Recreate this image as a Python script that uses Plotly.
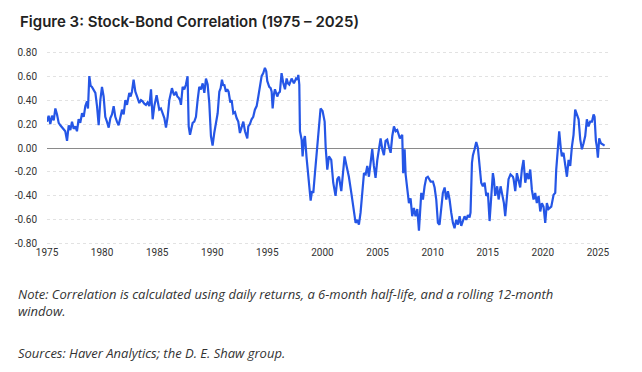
import plotly.graph_objects as go

# ---- data: decimal year, correlation ----
years_a = [1975.00, 1975.15, 1975.30, 1975.45, 1975.61, 1975.76, 1975.91, 1976.06, 1976.21, 1976.36,
           1976.51, 1976.66, 1976.82, 1976.97, 1977.12, 1977.27, 1977.42, 1977.57, 1977.72, 1977.87,
           1978.02, 1978.18, 1978.33, 1978.48, 1978.63, 1978.72, 1978.84, 1978.96, 1979.08, 1979.23,
           1979.39, 1979.54, 1979.69, 1979.84, 1979.99, 1980.14, 1980.29, 1980.44, 1980.60, 1980.75,
           1980.90, 1981.05, 1981.20, 1981.35, 1981.50, 1981.65, 1981.81, 1981.96, 1982.11, 1982.26,
           1982.47, 1982.59, 1982.71, 1982.86, 1983.02, 1983.14]
corr_a = [0.22, 0.27, 0.20, 0.27, 0.23, 0.33, 0.28, 0.21, 0.19, 0.17,
          0.15, 0.14, 0.06, 0.19, 0.15, 0.22, 0.16, 0.18, 0.14, 0.24,
          0.21, 0.29, 0.26, 0.35, 0.39, 0.33, 0.60, 0.52, 0.51, 0.49,
          0.46, 0.35, 0.19, 0.40, 0.51, 0.43, 0.26, 0.22, 0.17, 0.25,
          0.28, 0.35, 0.26, 0.22, 0.19, 0.25, 0.32, 0.28, 0.40, 0.36,
          0.46, 0.43, 0.47, 0.57, 0.47, 0.44]

years_b = [1983.38, 1983.53, 1983.68, 1983.83, 1983.98, 1984.13, 1984.29, 1984.44, 1984.59, 1984.74,
           1984.95, 1985.07, 1985.19, 1985.34, 1985.50, 1985.65, 1985.80, 1985.95, 1986.10, 1986.22,
           1986.34, 1986.46, 1986.55, 1986.71, 1986.83, 1986.95, 1987.07, 1987.16, 1987.31, 1987.46,
           1987.61, 1987.76, 1987.86, 1987.98, 1988.10, 1988.22, 1988.37, 1988.52, 1988.67, 1988.82,
           1988.97, 1989.13, 1989.28, 1989.43, 1989.58, 1989.73, 1989.88, 1990.03, 1990.18, 1990.34,
           1990.49, 1990.64, 1990.76, 1990.88, 1991.00, 1991.09, 1991.24, 1991.36, 1991.48, 1991.64]
corr_b = [0.375, 0.40, 0.39, 0.37, 0.36, 0.38, 0.35, 0.49, 0.24, 0.35,
          0.44, 0.38, 0.32, 0.33, 0.28, 0.25, 0.17, 0.26, 0.40, 0.45,
          0.50, 0.46, 0.44, 0.47, 0.43, 0.42, 0.40, 0.36, 0.51, 0.49,
          0.53, 0.60, 0.18, 0.11, 0.17, 0.21, 0.22, 0.26, 0.40, 0.51,
          0.49, 0.54, 0.46, 0.58, 0.53, 0.375, 0.10, 0.02, 0.125, 0.21,
          0.29, 0.47, 0.50, 0.57, 0.52, 0.53, 0.47, 0.49, 0.47, 0.38]

years_c = [1991.76, 1991.91, 1992.06, 1992.21, 1992.36, 1992.51, 1992.66, 1992.82, 1992.97, 1993.18,
           1993.27, 1993.42, 1993.57, 1993.72, 1993.87, 1994.03, 1994.18, 1994.33, 1994.48, 1994.63,
           1994.78, 1994.90, 1994.99, 1995.17, 1995.30, 1995.39, 1995.48, 1995.60, 1995.69, 1995.90,
           1996.02, 1996.14, 1996.29, 1996.45, 1996.60, 1996.75, 1996.87, 1996.99, 1997.20, 1997.41,
           1997.60, 1997.72, 1997.81, 1997.90, 1997.96, 1998.11, 1998.20, 1998.32, 1998.41, 1998.56,
           1998.71, 1998.87, 1998.93, 1999.05, 1999.17, 1999.32, 1999.53, 1999.71, 1999.83, 2000.01]
corr_c = [0.40, 0.29, 0.30, 0.25, 0.22, 0.125, 0.18, 0.22, 0.14, 0.08,
          0.18, 0.20, 0.24, 0.26, 0.32, 0.35, 0.43, 0.52, 0.60, 0.625,
          0.67, 0.64, 0.56, 0.51, 0.50, 0.47, 0.33, 0.45, 0.49, 0.43,
          0.46, 0.47, 0.625, 0.54, 0.49, 0.58, 0.54, 0.53, 0.58, 0.54,
          0.58, 0.57, 0.61, 0.53, 0.14, 0.07, -0.07, 0.07, 0.10, -0.08,
          -0.21, -0.35, -0.44, -0.36, -0.375, -0.21, 0.01, 0.25, 0.33, 0.31]

years_d = [2000.20, 2000.29, 2000.44, 2000.59, 2000.80, 2000.98, 2001.19, 2001.35, 2001.50, 2001.71,
           2001.89, 2002.01, 2002.19, 2002.40, 2002.62, 2002.80, 2003.01, 2003.16, 2003.31, 2003.46,
           2003.61, 2003.77, 2003.92, 2004.07, 2004.22, 2004.37, 2004.52, 2004.67, 2004.82, 2004.98,
           2005.13, 2005.28, 2005.43, 2005.58, 2005.73, 2005.88, 2006.03, 2006.19, 2006.34, 2006.49,
           2006.64, 2006.79, 2007.03, 2007.24, 2007.33, 2007.46, 2007.55, 2007.70, 2007.85, 2008.00,
           2008.15, 2008.30, 2008.45, 2008.61, 2008.76]
corr_d = [0.22, 0.01, -0.18, -0.07, -0.10, -0.29, -0.40, -0.26, -0.24, -0.36,
          -0.18, -0.07, -0.15, -0.24, -0.375, -0.49, -0.625, -0.60, -0.64, -0.54,
          -0.35, -0.21, -0.22, -0.15, -0.24, -0.11, -0.01, -0.15, -0.25, -0.10,
          0.01, 0.08, -0.01, -0.06, 0.06, 0.07, 0.01, -0.04, 0.10, 0.18,
          0.14, 0.15, 0.08, 0.11, -0.21, -0.01, -0.22, -0.35, -0.46, -0.42,
          -0.57, -0.50, -0.57, -0.51, -0.69]

years_e = [2008.97, 2009.12, 2009.27, 2009.42, 2009.57, 2009.82, 2010.03, 2010.18, 2010.33, 2010.48,
           2010.63, 2010.78, 2010.93, 2011.09, 2011.24, 2011.39, 2011.54, 2011.69, 2011.84, 2011.99,
           2012.14, 2012.30, 2012.45, 2012.60, 2012.75, 2012.90, 2013.05, 2013.20, 2013.35, 2013.44,
           2013.57, 2013.66, 2013.81, 2013.96, 2014.11, 2014.26, 2014.41, 2014.56, 2014.72, 2014.87,
           2015.02, 2015.17, 2015.32, 2015.47, 2015.56, 2015.68, 2015.86, 2015.99, 2016.17, 2016.29,
           2016.47, 2016.59, 2016.77, 2016.89, 2017.07]
corr_e = [-0.375, -0.43, -0.32, -0.25, -0.24, -0.28, -0.28, -0.33, -0.43, -0.625,
          -0.64, -0.51, -0.375, -0.33, -0.43, -0.36, -0.43, -0.54, -0.625, -0.67,
          -0.60, -0.64, -0.57, -0.65, -0.60, -0.57, -0.60, -0.56, -0.58, -0.54,
          -0.125, -0.06, -0.01, 0.05, 0.00, -0.15, -0.29, -0.32, -0.29, -0.40,
          -0.375, -0.61, -0.375, -0.21, -0.26, -0.40, -0.32, -0.43, -0.32, -0.375,
          -0.46, -0.57, -0.40, -0.26, -0.22]

years_f = [2017.29, 2017.35, 2017.50, 2017.65, 2017.80, 2017.95, 2018.10, 2018.25, 2018.41, 2018.56,
           2018.71, 2018.86, 2019.01, 2019.16, 2019.31, 2019.46, 2019.62, 2019.77, 2019.92, 2020.07,
           2020.22, 2020.37, 2020.52, 2020.77, 2020.98, 2021.13, 2021.22, 2021.34, 2021.49, 2021.64,
           2021.73, 2021.88, 2022.04, 2022.19, 2022.34, 2022.49, 2022.64, 2022.79, 2022.94, 2023.09,
           2023.25, 2023.40, 2023.55, 2023.70, 2023.85, 2024.00, 2024.15, 2024.30, 2024.46, 2024.61,
           2024.70, 2024.82, 2024.91, 2025.00, 2025.12, 2025.27, 2025.43, 2025.61]
corr_f = [-0.24, -0.26, -0.36, -0.21, -0.28, -0.33, -0.18, -0.10, -0.29, -0.21,
          -0.26, -0.18, -0.35, -0.43, -0.375, -0.46, -0.40, -0.53, -0.46, -0.49,
          -0.625, -0.46, -0.51, -0.49, -0.39, -0.375, -0.18, -0.03, 0.14, -0.01,
          -0.07, -0.04, -0.15, -0.24, -0.10, -0.15, 0.01, 0.11, 0.32, 0.28,
          0.24, 0.07, -0.01, 0.04, 0.10, 0.24, 0.18, 0.22, 0.22, 0.28,
          0.26, 0.06, 0.01, -0.08, 0.08, 0.04, 0.03, 0.02]

y_ticks = [0.8, 0.6, 0.4, 0.2, 0.0, -0.2, -0.4, -0.6, -0.8]
x_ticks = [1975, 1980, 1985, 1990, 1995, 2000, 2005, 2010, 2015, 2020, 2025]

title_text = "Figure 3: Stock-Bond Correlation (1975 – 2025)"
note_text = ("Note: Correlation is calculated using daily returns, a 6-month half-life, and a rolling 12-month"
             "<br>window.")
source_text = "Sources: Haver Analytics; the D. E. Shaw group."

years = years_a + years_b + years_c + years_d + years_e + years_f
corr = corr_a + corr_b + corr_c + corr_d + corr_e + corr_f

fig = go.Figure()
fig.add_trace(go.Scatter(x=years, y=corr, mode="lines",
                         line=dict(color="#2556E6", width=2.2), hoverinfo="skip"))

fig.update_layout(
    width=642, height=372,
    margin=dict(l=47, r=32, t=51, b=127),
    paper_bgcolor="white", plot_bgcolor="white",
    showlegend=False,
    font=dict(family="Roboto, Open Sans, sans-serif", color="#333333", size=10),
)
fig.update_xaxes(range=[1975, 2026.1], tickvals=x_ticks, ticktext=[str(v) for v in x_ticks],
                 showgrid=False, zeroline=False, showline=False, ticks="",
                 tickfont=dict(size=10, color="#333333"))
fig.update_yaxes(range=[-0.81, 0.81], tickvals=y_ticks,
                 ticktext=[f"{v:.2f}" for v in y_ticks],
                 showgrid=True, gridcolor="#e2e2e2", griddash="3px,3px", gridwidth=1,
                 zeroline=True, zerolinecolor="#8a8a8a", zerolinewidth=1,
                 showline=False, ticks="", ticklabelstandoff=9,
                 tickfont=dict(size=10, color="#333333"))

H = 194.0
W = 563.0
def px(xp):
    return (xp - 47) / W
def py(yp):
    return (245 - yp) / H

note_font = dict(family="Open Sans, sans-serif", size=13, color="#333333", style="italic")
fig.add_annotation(text=title_text, xref="paper", yref="paper", x=px(18), y=py(21),
                   xanchor="left", yanchor="middle", showarrow=False,
                   font=dict(family="Inter, Lato, sans-serif", size=15, color="#222222", weight=600))
fig.add_annotation(text=note_text, xref="paper", yref="paper", x=px(16), y=py(302.5),
                   xanchor="left", yanchor="middle", showarrow=False, align="left",
                   font=note_font)
fig.add_annotation(text=source_text, xref="paper", yref="paper", x=px(16), y=py(353),
                   xanchor="left", yanchor="middle", showarrow=False, align="left",
                   font=note_font)

fig.write_html("out.html", config={"displayModeBar": False},
               post_script="document.body.style.margin='0';document.body.style.overflow='hidden';")
